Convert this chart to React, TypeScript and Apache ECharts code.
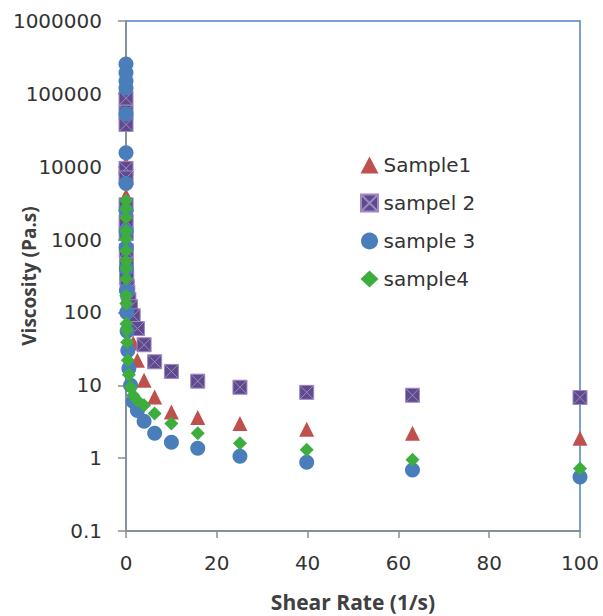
import React, { useEffect, useRef } from "react";
import * as echarts from "echarts";

// Shear rates (1/s), shared by all samples
const shearRates = [
  0.000631, 0.001, 0.00158, 0.00251, 0.00398, 0.00631, 0.01, 0.0158, 0.0251, 0.0398,
  0.0631, 0.1, 0.158, 0.251, 0.398, 0.631, 1, 1.58, 2.51, 3.98, 6.31, 10, 15.8, 25.1,
  39.8, 63.1, 100,
];

// Viscosity (Pa.s) per sample; null = no point
const sample1 = [
  null, null, null, null, null, 11000, 8500, 4000, 2200, 1400, 900, 600, 400, 260, 170,
  110, 65, 38, 22, 11.7, 6.9, 4.3, 3.6, 3.0, 2.5, 2.2, 1.88,
];
const sample2 = [
  null, null, 87000, 56000, 38000, 9500, 7000, 3000, 1800, 1200, 700, 450, 300, 230, 190,
  150, 120, 90, 60, 36, 21, 15.5, 11.4, 9.4, 8.0, 7.3, 6.8,
];
const sample3 = [
  257000, 195000, 150000, 120000, 53000, 15500, 5900, 2500, 1300, 780, 400, 200, 100, 55,
  30, 17, 10, 6, 4.5, 3.2, 2.2, 1.65, 1.37, 1.06, 0.88, 0.69, 0.55,
];
const sample4 = [
  3400, 2650, 2000, 1320, 1030, 700, 510, 400, 290, 170, 133, 70, 57, 39, 22, 14, 9.4, 7.3,
  6.2, 5.3, 4.1, 3.0, 2.2, 1.6, 1.3, 0.95, 0.72,
];

const seriesNames = ["Sample1", "sampel 2", "sample 3", "sample4"];
const xTicks = [0, 20, 40, 60, 80, 100];
const yTickLabels = ["0.1", "1", "10", "100", "1000", "10000", "100000", "1000000"];

const squareX = "path://M0 0H20V20H0Z M0 0L20 20 M20 0L0 20";

function pairs(ys: (number | null)[]) {
  const out: [number, number][] = [];
  ys.forEach((y, i) => {
    if (y !== null) out.push([shearRates[i], y]);
  });
  return out;
}

export default function App() {
  const ref = useRef<HTMLDivElement>(null);
  useEffect(() => {
    if (!ref.current) return;
    const chart = echarts.init(ref.current, undefined, { renderer: "svg" });
    const font = "DejaVu Sans";
    const labelColor = "#333333";
    chart.setOption({
      animation: false,
      backgroundColor: "#ffffff",
      grid: {
        left: 126,
        right: 23,
        top: 21,
        bottom: 85,
        containLabel: false,
        outerBoundsMode: "none",
        show: true,
        borderColor: "#4F81BD",
        borderWidth: 1.5,
        backgroundColor: "transparent",
      },
      legend: {
        orient: "vertical",
        left: 355,
        top: 150,
        itemWidth: 18,
        itemHeight: 17,
        itemGap: 18,
        data: seriesNames,
        textStyle: { fontFamily: font, fontSize: 20, color: labelColor },
      },
      xAxis: {
        type: "value",
        min: 0,
        max: 100,
        interval: 20,
        name: "Shear Rate (1/s)",
        nameLocation: "middle",
        nameGap: 60,
        nameMoveOverlap: false,
        nameTextStyle: { fontFamily: "Open Sans", fontWeight: "bold", fontSize: 21, color: "#404040" },
        axisLine: { show: true, lineStyle: { color: "#8C8C8C", width: 1.5 } },
        axisTick: { show: true, length: 7, lineStyle: { color: "#8C8C8C", width: 1.5 } },
        axisLabel: {
          fontFamily: font,
          fontSize: 20,
          color: labelColor,
          margin: 22,
          formatter: (v: number) => (xTicks.includes(v) ? String(v) : ""),
        },
        splitLine: { show: false },
      },
      yAxis: {
        type: "log",
        logBase: 10,
        min: 0.1,
        max: 1000000,
        name: "Viscosity (Pa.s)",
        nameLocation: "middle",
        nameGap: 88,
        nameMoveOverlap: false,
        nameTextStyle: { fontFamily: "Open Sans", fontWeight: "bold", fontSize: 19, color: "#404040" },
        axisLine: { show: true, lineStyle: { color: "#8C8C8C", width: 1.5 } },
        axisTick: { show: true, length: 8, lineStyle: { color: "#8C8C8C", width: 1.5 } },
        axisLabel: {
          fontFamily: font,
          fontSize: 20,
          color: labelColor,
          margin: 24,
          formatter: (v: number) => {
            const idx = Math.round(Math.log10(v)) + 1;
            return yTickLabels[idx] ?? "";
          },
        },
        splitLine: { show: false },
      },
      series: [
        {
          name: seriesNames[0],
          type: "scatter",
          symbol: "triangle",
          symbolSize: 15,
          itemStyle: { color: "#C0504D", opacity: 1 },
          data: pairs(sample1),
        },
        {
          name: seriesNames[1],
          type: "scatter",
          symbol: squareX,
          symbolSize: 14,
          itemStyle: { color: "#5F4A8B", borderColor: "#9C8AC4", borderWidth: 1, opacity: 1 },
          data: pairs(sample2),
        },
        {
          name: seriesNames[2],
          type: "scatter",
          symbol: "circle",
          symbolSize: 15,
          itemStyle: { color: "#4A7EBB", opacity: 1 },
          data: pairs(sample3),
        },
        {
          name: seriesNames[3],
          type: "scatter",
          symbol: "diamond",
          symbolSize: 14,
          itemStyle: { color: "#3DAE3D", opacity: 1 },
          data: pairs(sample4),
        },
      ],
    });
    return () => chart.dispose();
  }, []);
  return (
    <div
      ref={ref}
      style={{ position: "fixed", left: 0, top: 0, width: 603, height: 616 }}
    />
  );
}
